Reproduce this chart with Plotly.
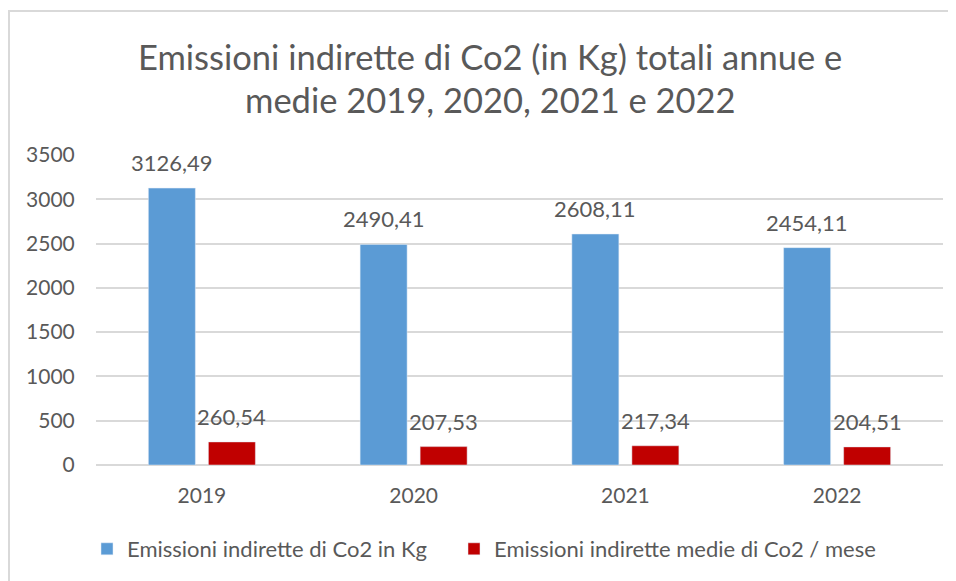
import plotly.graph_objects as go

years = ["2019", "2020", "2021", "2022"]
totali = [3126.49, 2490.41, 2608.11, 2454.11]
medie = [260.54, 207.53, 217.34, 204.51]
series_names = ["Emissioni indirette di Co2 in Kg", "Emissioni indirette medie di Co2 / mese"]
title_lines = ["Emissioni indirette di Co2 (in Kg) totali annue e", "medie 2019, 2020, 2021 e 2022"]
y_ticks = [0, 500, 1000, 1500, 2000, 2500, 3000, 3500]

FONT = "Lato"
GRAY = "#595959"
BLUE = "#5B9BD5"
RED = "#C00000"

OFF = 8  # page body margin
W, H = 956 - OFF, 581 - OFF
L, R, T, B = 96 - OFF, W - (943 - OFF), 155 - OFF, H - (465 - OFF)
pw, ph = W - L - R, H - T - B

def px_x(x):  # screen pixel -> paper x
    return (x - OFF - L) / pw

def px_y(y):  # screen pixel -> paper y
    return (H - B - (y - OFF)) / ph

def fmt(v):
    return f"{v:.2f}".replace(".", ",")

fig = go.Figure()
fig.add_trace(go.Bar(x=years, y=totali, name=series_names[0], marker_color=BLUE, legend="legend"))
fig.add_trace(go.Bar(x=years, y=medie, name=series_names[1], marker_color=RED, legend="legend2"))

annotations = []
for vals, shift in ((totali, -30), (medie, 30)):
    for i, v in enumerate(vals):
        annotations.append(dict(x=i, y=v, xref="x", yref="y", text=fmt(v), showarrow=False,
                                xshift=shift, yshift=10, yanchor="bottom", xanchor="center",
                                font=dict(family=FONT, size=22, color=GRAY)))
for line, ypix in zip(title_lines, (56, 100)):
    annotations.append(dict(x=px_x(490), y=px_y(ypix), xref="paper", yref="paper", text=line,
                            showarrow=False, xanchor="center", yanchor="middle",
                            font=dict(family=FONT, size=34.5, color=GRAY)))

legend_font = dict(family=FONT, size=22, color=GRAY)
fig.update_layout(
    width=W, height=H,
    margin=dict(l=L, r=R, t=T, b=B, autoexpand=False),
    paper_bgcolor="white", plot_bgcolor="white",
    barmode="group", bargap=0.433, bargroupgap=0.217,
    font=dict(family=FONT, color=GRAY),
    showlegend=True,
    legend=dict(orientation="h", x=px_x(87), xanchor="left", y=px_y(549), yanchor="middle",
                font=legend_font, itemclick=False),
    legend2=dict(orientation="h", x=px_x(454), xanchor="left", y=px_y(549), yanchor="middle",
                 font=legend_font, itemclick=False),
    annotations=annotations,
    shapes=[dict(type="rect", xref="paper", yref="paper", x0=px_x(9), x1=px_x(1000),
                 y0=px_y(620), y1=px_y(11), line=dict(color="#D9D9D9", width=2), layer="below")],
)
fig.update_xaxes(type="category", range=[-0.5, len(years) - 0.5], autorange=False,
                 showgrid=False, showline=False, ticks="outside", ticklen=12,
                 tickcolor="rgba(0,0,0,0)", tickfont=dict(family=FONT, size=21, color=GRAY))
fig.update_yaxes(range=[0, 3500], autorange=False, tickvals=y_ticks, showgrid=True, gridcolor="#D9D9D9",
                 gridwidth=2, zeroline=True, zerolinecolor="#D9D9D9", zerolinewidth=2, showline=False,
                 ticks="outside", ticklen=16, tickcolor="rgba(0,0,0,0)",
                 tickfont=dict(family=FONT, size=21, color=GRAY))

fig.write_html("out.html")
